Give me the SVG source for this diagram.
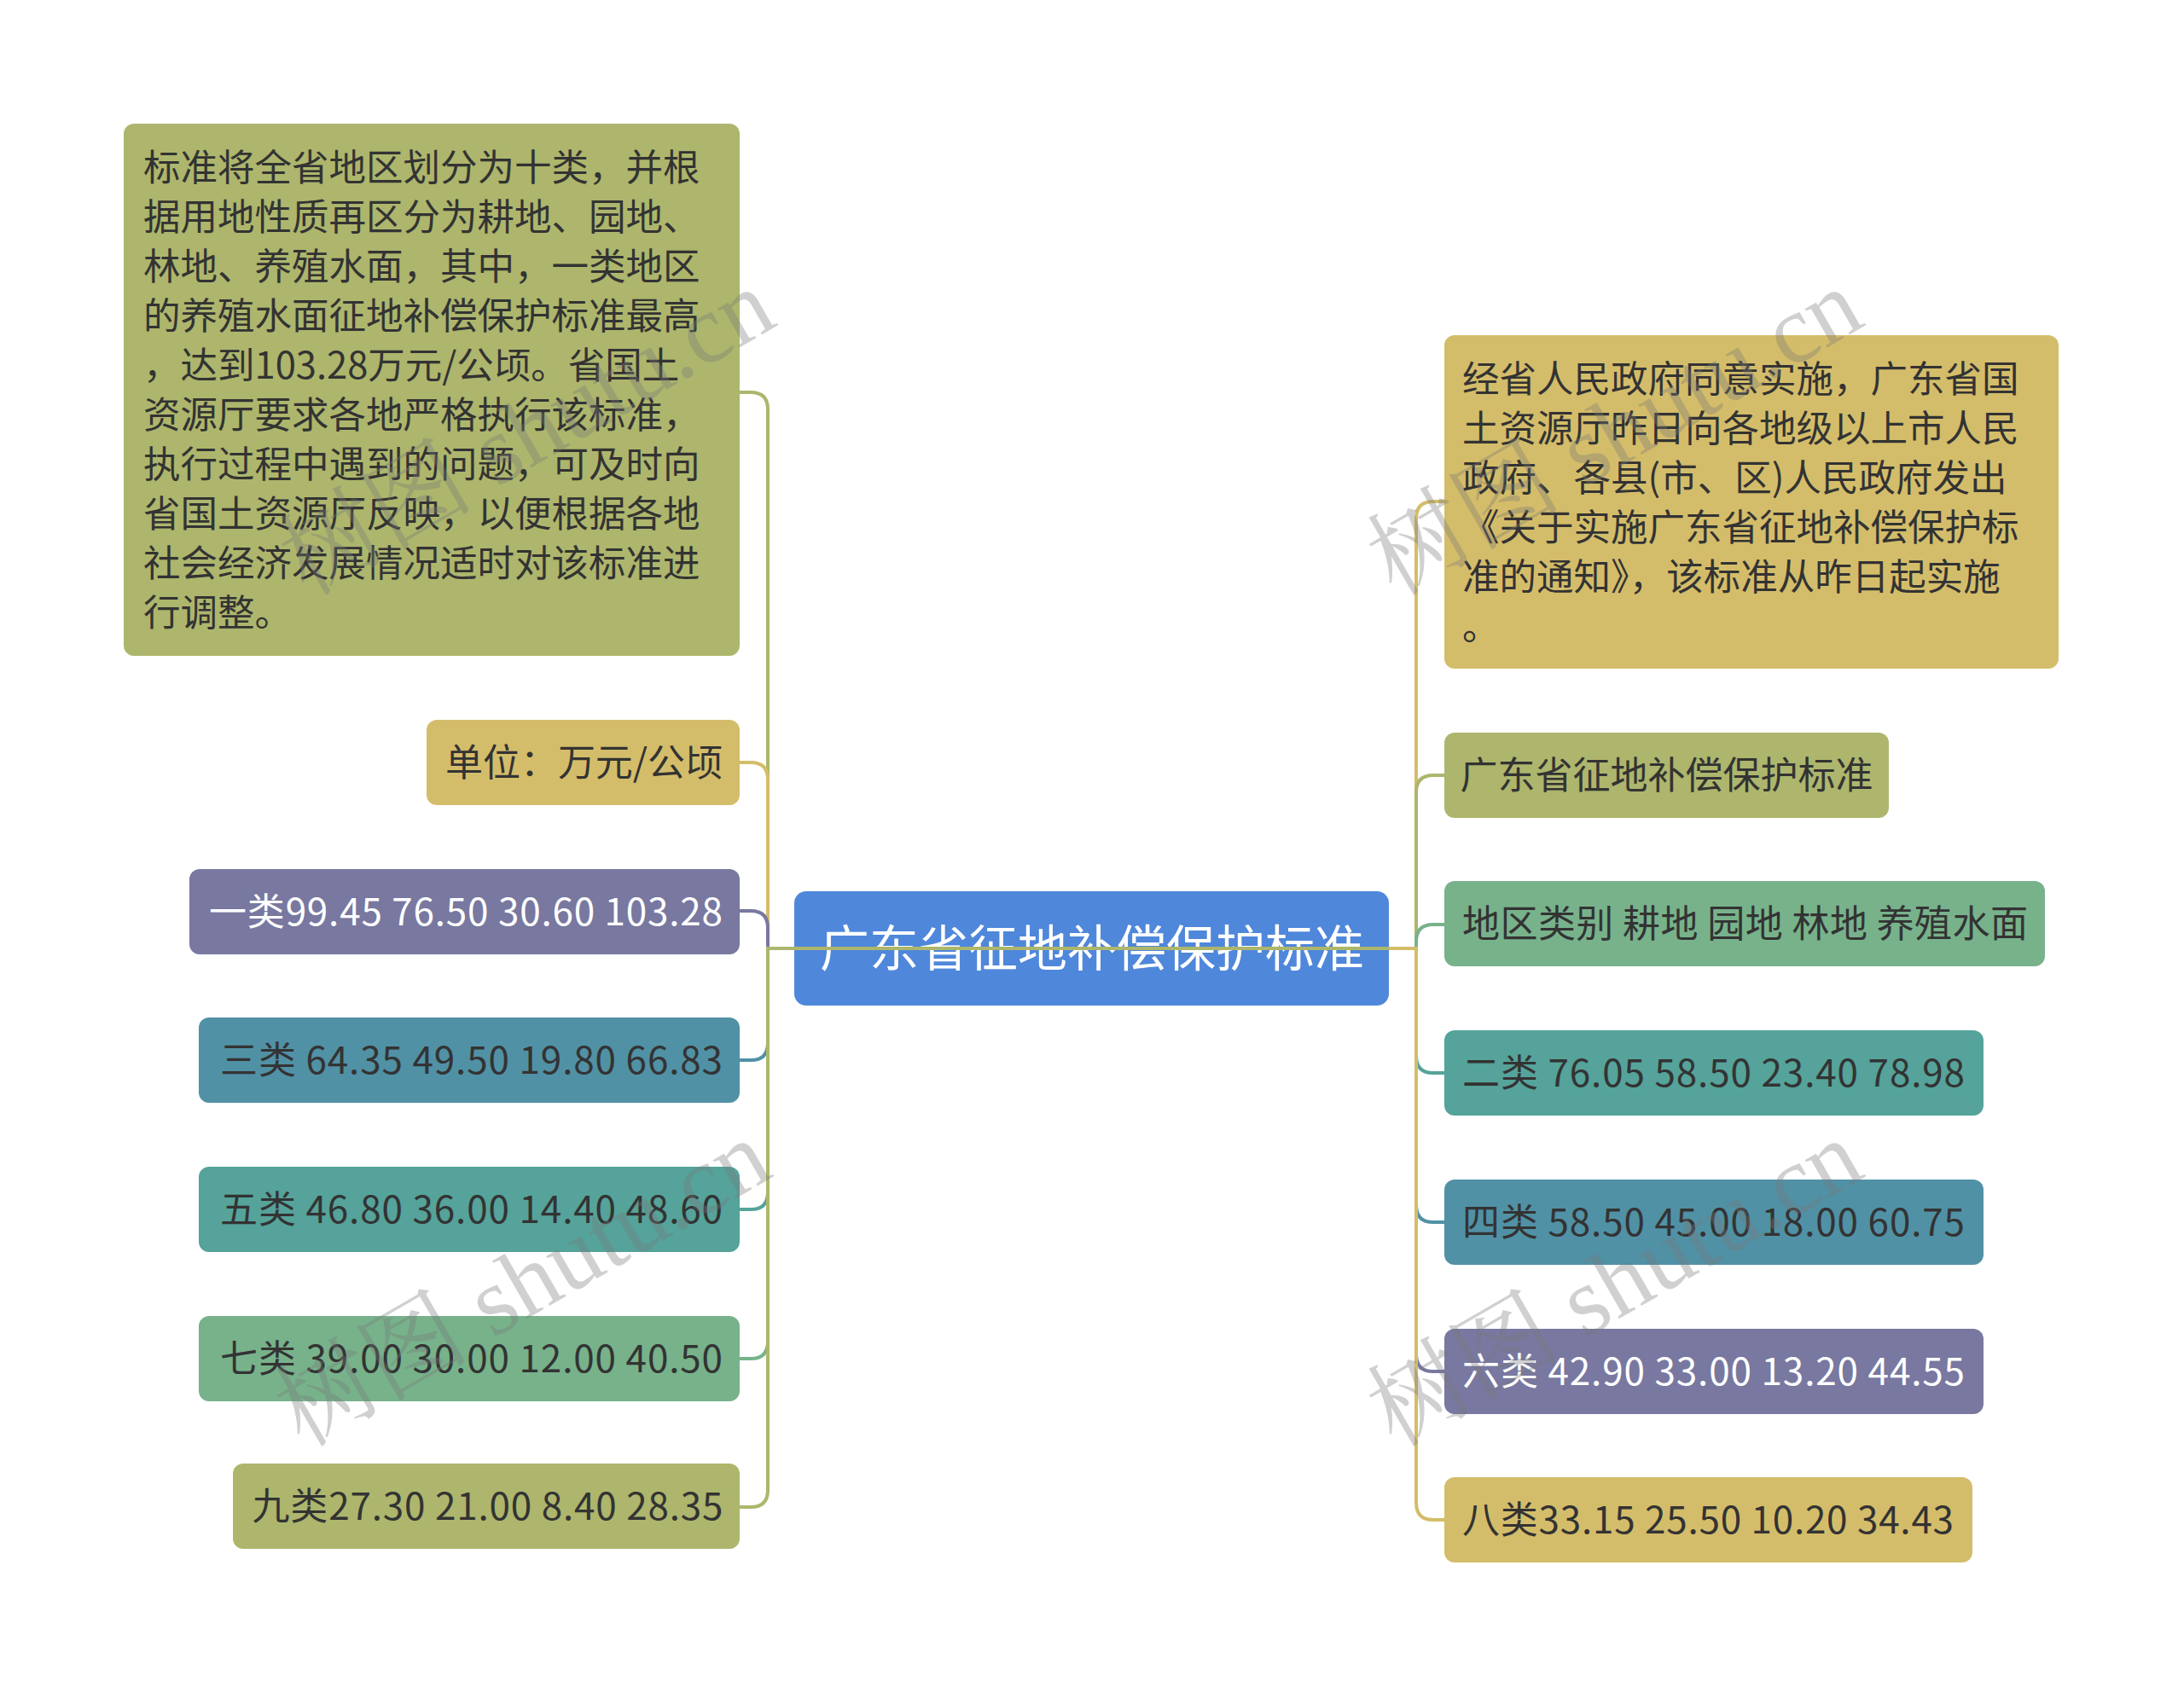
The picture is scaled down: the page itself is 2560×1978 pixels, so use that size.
<svg xmlns="http://www.w3.org/2000/svg" width="2560" height="1978" viewBox="0 0 2560 1978">
<style>
.t{font-family:"Noto Sans CJK SC","Noto Sans",sans-serif;font-size:44px;fill:#333333}
.p{font-size:43.5px}
.w{fill:#ffffff}
.m{text-anchor:middle}
.c{fill:none;stroke-width:4}
.wm{font-family:"Liberation Serif","Noto Serif CJK SC","Noto Sans CJK SC",serif;font-size:114px;fill:#787878;fill-opacity:0.35}
</style>
<rect width="2560" height="1978" fill="#ffffff"/>
<g id="root">
<rect x="931" y="1045" width="697" height="134" rx="14" fill="#4f87db"/>
<text class="t w m" x="1280" y="1133" style="font-size:58px">广东省征地补偿保护标准</text>
</g>
<g id="n-left-big">
<rect x="145" y="145" width="722" height="624" rx="12" fill="#adb66c"/>
<text class="t p" x="168" y="212">标准将全省地区划分为十类，并根</text>
<text class="t p" x="168" y="270">据用地性质再区分为耕地、园地、</text>
<text class="t p" x="168" y="328">林地、养殖水面，其中，一类地区</text>
<text class="t p" x="168" y="386">的养殖水面征地补偿保护标准最高</text>
<text class="t p" x="168" y="444">，达到103.28万元/公顷。省国土</text>
<text class="t p" x="168" y="502">资源厅要求各地严格执行该标准，</text>
<text class="t p" x="168" y="560">执行过程中遇到的问题，可及时向</text>
<text class="t p" x="168" y="618">省国土资源厅反映，以便根据各地</text>
<text class="t p" x="168" y="676">社会经济发展情况适时对该标准进</text>
<text class="t p" x="168" y="734">行调整。</text>
</g>
<g id="n-unit">
<rect x="500" y="844" width="367" height="100" rx="12" fill="#d4bd6a"/>
<text class="t m" x="684.5" y="910" textLength="325" lengthAdjust="spacing">单位：万元/公顷</text>
</g>
<g id="n-1">
<rect x="222" y="1019" width="645" height="100" rx="12" fill="#7878a0"/>
<text class="t w m" x="546" y="1085" textLength="602" lengthAdjust="spacing">一类99.45 76.50 30.60 103.28</text>
</g>
<g id="n-3">
<rect x="233" y="1193" width="634" height="100" rx="12" fill="#5191a5"/>
<text class="t m" x="552.5" y="1259" textLength="589" lengthAdjust="spacing">三类 64.35 49.50 19.80 66.83</text>
</g>
<g id="n-5">
<rect x="233" y="1368" width="634" height="100" rx="12" fill="#55a39a"/>
<text class="t m" x="552.5" y="1434" textLength="589" lengthAdjust="spacing">五类 46.80 36.00 14.40 48.60</text>
</g>
<g id="n-7">
<rect x="233" y="1543" width="634" height="100" rx="12" fill="#77b28b"/>
<text class="t m" x="552.5" y="1609" textLength="589" lengthAdjust="spacing">七类 39.00 30.00 12.00 40.50</text>
</g>
<g id="n-9">
<rect x="273" y="1716" width="594" height="100" rx="12" fill="#adb66c"/>
<text class="t m" x="571.5" y="1782" textLength="552" lengthAdjust="spacing">九类27.30 21.00 8.40 28.35</text>
</g>
<g id="n-right-big">
<rect x="1693" y="393" width="720" height="391" rx="12" fill="#d4bd6a"/>
<text class="t p" x="1714" y="460">经省人民政府同意实施，广东省国</text>
<text class="t p" x="1714" y="518">土资源厅昨日向各地级以上市人民</text>
<text class="t p" x="1714" y="576">政府、各县(市、区)人民政府发出</text>
<text class="t p" x="1714" y="634">《关于实施广东省征地补偿保护标</text>
<text class="t p" x="1714" y="692">准的通知》，该标准从昨日起实施</text>
<text class="t p" x="1714" y="750">。</text>
</g>
<g id="n-gd">
<rect x="1693" y="859" width="521" height="100" rx="12" fill="#adb66c"/>
<text class="t m" x="1953.5" y="925">广东省征地补偿保护标准</text>
</g>
<g id="n-header">
<rect x="1693" y="1033" width="704" height="100" rx="12" fill="#77b28b"/>
<text class="t m" x="2045.5" y="1099" textLength="663" lengthAdjust="spacing">地区类别 耕地 园地 林地 养殖水面</text>
</g>
<g id="n-2">
<rect x="1693" y="1208" width="632" height="100" rx="12" fill="#55a39a"/>
<text class="t m" x="2008.5" y="1274" textLength="589" lengthAdjust="spacing">二类 76.05 58.50 23.40 78.98</text>
</g>
<g id="n-4">
<rect x="1693" y="1383" width="632" height="100" rx="12" fill="#5191a5"/>
<text class="t m" x="2008.5" y="1449" textLength="589" lengthAdjust="spacing">四类 58.50 45.00 18.00 60.75</text>
</g>
<g id="n-6">
<rect x="1693" y="1558" width="632" height="100" rx="12" fill="#7878a0"/>
<text class="t w m" x="2008.5" y="1624" textLength="589" lengthAdjust="spacing">六类 42.90 33.00 13.20 44.55</text>
</g>
<g id="n-8">
<rect x="1693" y="1732" width="619" height="100" rx="12" fill="#d4bd6a"/>
<text class="t m" x="2002" y="1798" textLength="576" lengthAdjust="spacing">八类33.15 25.50 10.20 34.43</text>
</g>
<g id="connectors">
<path class="c" stroke="#d4bd6a" d="M1628 1112 H1660 V608 Q1660 588 1680 588 H1693"/>
<path class="c" stroke="#adb66c" d="M1628 1112 H1660 V929 Q1660 909 1680 909 H1693"/>
<path class="c" stroke="#77b28b" d="M1628 1112 H1660 V1104 Q1660 1084 1680 1084 H1693"/>
<path class="c" stroke="#55a39a" d="M1628 1112 H1660 V1238 Q1660 1258 1680 1258 H1693"/>
<path class="c" stroke="#5191a5" d="M1628 1112 H1660 V1413 Q1660 1433 1680 1433 H1693"/>
<path class="c" stroke="#7878a0" d="M1628 1112 H1660 V1588 Q1660 1608 1680 1608 H1693"/>
<path class="c" stroke="#d4bd6a" d="M1628 1112 H1660 V1762 Q1660 1782 1680 1782 H1693"/>
<path class="c" stroke="#adb66c" d="M1628 1112 H900 V480 Q900 460 880 460 H867"/>
<path class="c" stroke="#d4bd6a" d="M1628 1112 H900 V914 Q900 894 880 894 H867"/>
<path class="c" stroke="#7878a0" d="M1628 1112 H900 V1088 Q900 1068 880 1068 H867"/>
<path class="c" stroke="#5191a5" d="M1628 1112 H900 V1223 Q900 1243 880 1243 H867"/>
<path class="c" stroke="#55a39a" d="M1628 1112 H900 V1398 Q900 1418 880 1418 H867"/>
<path class="c" stroke="#77b28b" d="M1628 1112 H900 V1573 Q900 1593 880 1593 H867"/>
<path class="c" stroke="#adb66c" d="M1628 1112 H900 V1747 Q900 1767 880 1767 H867"/>
</g>
<g id="watermarks">
<text class="wm" transform="translate(360 700) rotate(-30)">树图 shutu.cn</text>
<text class="wm" transform="translate(355 1698) rotate(-30)">树图 shutu.cn</text>
<text class="wm" transform="translate(1635 700) rotate(-30)">树图 shutu.cn</text>
<text class="wm" transform="translate(1635 1698) rotate(-30)">树图 shutu.cn</text>
</g>
</svg>
